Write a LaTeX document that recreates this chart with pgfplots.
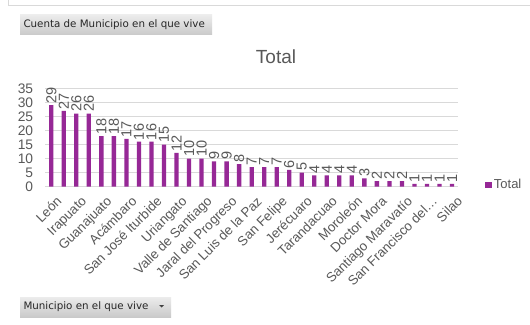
\documentclass[border=0pt]{standalone}
\usepackage{pgfplots}
\pgfplotsset{compat=1.18}
\usepackage{fontspec}
\setmainfont{Liberation Sans}
\newfontfamily\btnfont{DejaVu Sans}
\definecolor{barc}{RGB}{150,40,150}
\definecolor{txt}{RGB}{89,89,89}
\definecolor{gridc}{RGB}{217,217,217}
\definecolor{frame}{RGB}{217,217,217}
\begin{document}
\begin{tikzpicture}[x=1pt,y=1pt]
\path[use as bounding box, fill=white] (0,0) rectangle (530,324);
% outer frame
\draw[frame, line width=1pt] (8,324) -- (8,318.5) -- (530,318.5);
% field buttons
\shade[top color=gray!15, bottom color=gray!42] (20,289) rectangle (212,309);
\node[anchor=west, inner sep=0pt, font=\btnfont\fontsize{10.3}{12}\selectfont, text=black!85] at (23.3,299) {Cuenta de Municipio en el que vive};
\shade[top color=gray!15, bottom color=gray!42] (20,7) rectangle (171,27);
\node[anchor=west, inner sep=0pt, font=\btnfont\fontsize{10.3}{12}\selectfont, text=black!85] at (23.3,17) {Municipio en el que vive};
\fill[black!75] (159.2,19) -- (164.2,19) -- (161.7,16.5) -- cycle;
% title
\node[font=\fontsize{19}{22}\selectfont, text=txt] at (276,267) {Total};
\begin{axis}[
  at={(45pt,137.3pt)}, anchor=south west,
  scale only axis, width=413.3pt, height=98.4pt,
  ybar, bar width=4.3pt,
  xmin=-0.5, xmax=32.5, ymin=0, ymax=35,
  ytick={0,5,...,35},
  xtick={0,2,...,32},
  xticklabels={León,Irapuato,Guanajuato,Acámbaro,San José Iturbide,Uriangato,Valle de Santiago,Jaral del Progreso,San Luis de la Paz,San Felipe,Jerécuaro,Tarandacuao,Moroleón,Doctor Mora,Santiago Maravatío,San Francisco del…,Silao},
  ymajorgrids, grid style={gridc, line width=0.9pt},
  axis line style={draw=none},
  major tick length=0pt,
  tick label style={font=\fontsize{13.3}{15}\selectfont, text=txt},
  /pgf/number format/assume math mode=true,
  yticklabel style={anchor=east, inner sep=0pt, xshift=-11.7pt, font=\fontsize{13.8}{15}\selectfont},
  xticklabel style={rotate=45, anchor=north east, inner sep=0pt, xshift=-3pt, yshift=-9pt},
  nodes near coords,
  every node near coord/.append style={rotate=90, anchor=west, font=\fontsize{14.5}{16}\selectfont, text=txt, inner sep=1.5pt, /pgf/number format/assume math mode=true},
  legend style={draw=none, fill=none, at={(1.0646,0.017)}, anchor=west, inner sep=0pt, font=\fontsize{13}{14}\selectfont, text=txt, legend cell align=left},
]
\addplot[fill=barc, draw=none, legend image code/.code={\fill[barc] (0pt,-3.3pt) rectangle (6.7pt,3.3pt);}] coordinates {
(0,29) (1,27) (2,26) (3,26) (4,18) (5,18) (6,17) (7,16) (8,16) (9,15)
(10,12) (11,10) (12,10) (13,9) (14,9) (15,8) (16,7) (17,7) (18,7) (19,6)
(20,5) (21,4) (22,4) (23,4) (24,4) (25,3) (26,2) (27,2) (28,2) (29,1)
(30,1) (31,1) (32,1)};
\addlegendentry{Total}
\end{axis}
\end{tikzpicture}
\end{document}
